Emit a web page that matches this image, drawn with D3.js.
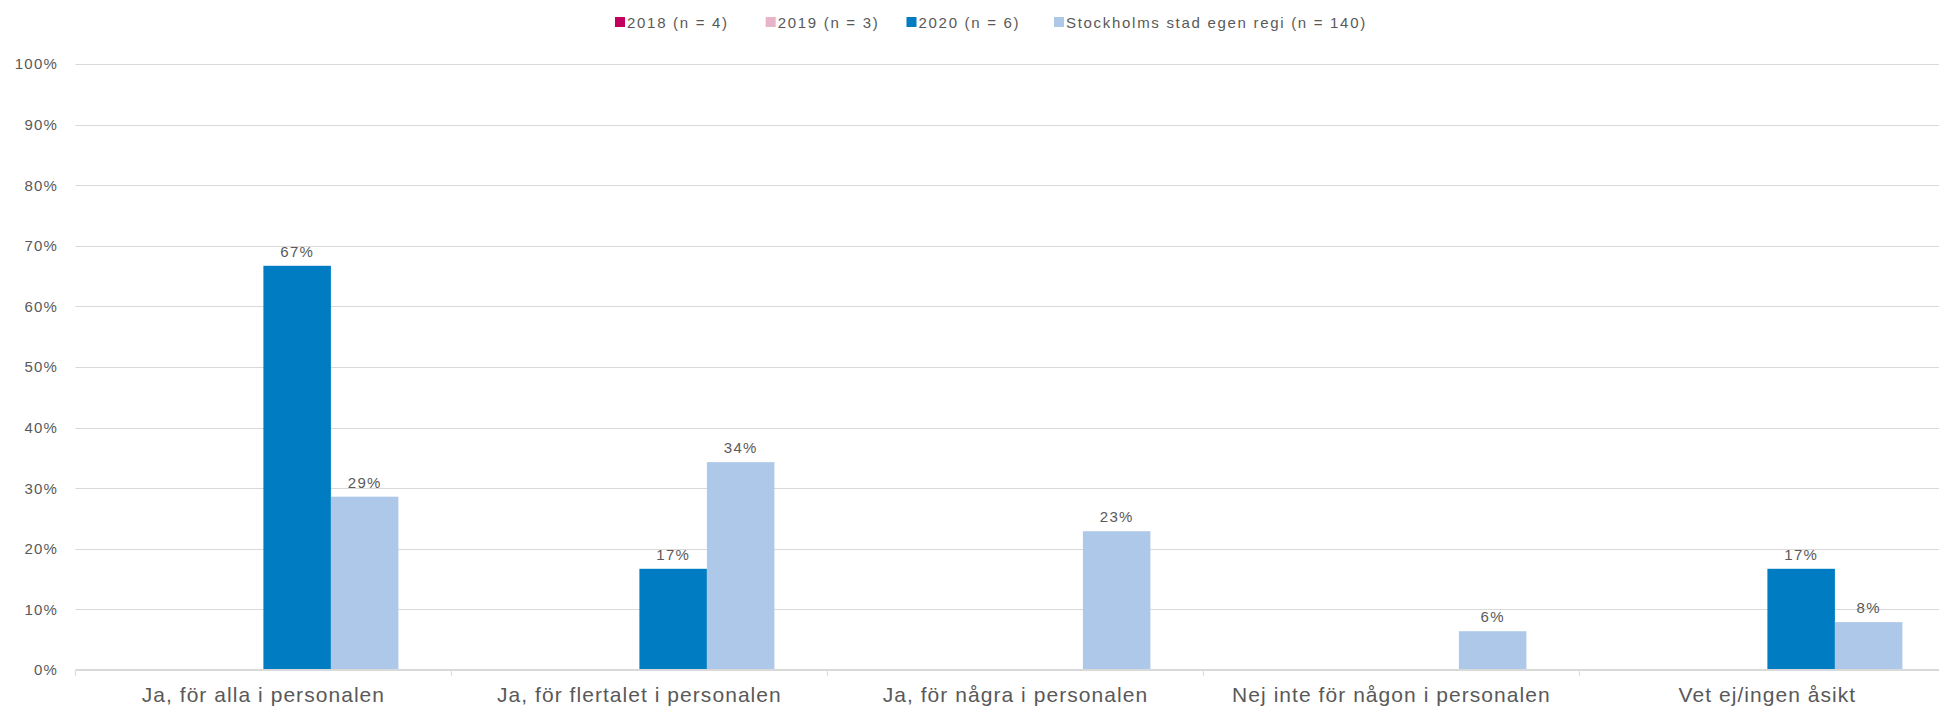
<!DOCTYPE html>
<html>
<head>
<meta charset="utf-8">
<script src="https://cdn.jsdelivr.net/npm/d3@7"></script>
<style>
  html, body { margin: 0; padding: 0; background: #fff; overflow: hidden; }
  svg { display: block; font-family: "Liberation Sans", Arial, sans-serif; }
</style>
</head>
<body>
<svg id="chart"></svg>
<script>
// categories on the x axis
const categories = [
  "Ja, för alla i personalen",
  "Ja, för flertalet i personalen",
  "Ja, för några i personalen",
  "Nej inte för någon i personalen",
  "Vet ej/ingen åsikt"
];
// series (legend)
const seriesNames = ["2018 (n = 4)", "2019 (n = 3)", "2020 (n = 6)", "Stockholms stad egen regi (n = 140)"];
const seriesColors = ["#C4005F", "#E8B4C8", "#007CC2", "#AEC8EA"];
// values in percent, null = no answer that year
const values2018 = [null, null, null, null, null];
const values2019 = [null, null, null, null, null];
const values2020 = [66.7, 16.7, null, null, 16.7];
const valuesStockholm = [28.6, 34.3, 22.9, 6.4, 7.9];
const yTicks = [0, 10, 20, 30, 40, 50, 60, 70, 80, 90, 100];

const allValues = [values2018, values2019, values2020, valuesStockholm];

const width = 1939, height = 707;
const textColor = "#595959";
const gridColor = "#D9D9D9";

const svg = d3.select("#chart").attr("width", width).attr("height", height);

const x0 = d3.scaleBand().domain(categories).range([75.4, 1955.4]);
const x1 = d3.scaleBand().domain(seriesNames).range([0, x0.bandwidth()]).paddingOuter(0.785);
const y = d3.scaleLinear().domain([0, 100]).range([670, 64]);

// gridlines
svg.append("g")
  .selectAll("line")
  .data(yTicks.filter(d => d > 0))
  .join("line")
  .attr("x1", 75.4).attr("x2", width)
  .attr("y1", d => Math.round(y(d)) + 0.5).attr("y2", d => Math.round(y(d)) + 0.5)
  .attr("stroke", gridColor).attr("stroke-width", 1);

// y labels
svg.append("g")
  .selectAll("text")
  .data(yTicks)
  .join("text")
  .attr("x", 58)
  .attr("y", d => y(d))
  .attr("dy", "0.36em")
  .attr("text-anchor", "end")
  .attr("font-size", 15)
  .attr("letter-spacing", 1.2)
  .attr("fill", textColor)
  .text(d => d + "%");

// bars
const groups = svg.append("g")
  .selectAll("g")
  .data(categories)
  .join("g")
  .attr("transform", d => `translate(${x0(d)},0)`);

const barData = (c, i) => seriesNames.map((s, k) => ({ s, k, v: allValues[k][i] })).filter(d => d.v != null);

groups.selectAll("rect")
  .data(barData)
  .join("rect")
  .attr("x", d => x1(d.s))
  .attr("width", x1.bandwidth())
  .attr("y", d => y(d.v))
  .attr("height", d => y(0) - y(d.v))
  .attr("fill", d => seriesColors[d.k]);

groups.selectAll("text")
  .data(barData)
  .join("text")
  .attr("x", d => x1(d.s) + x1.bandwidth() / 2)
  .attr("y", d => y(d.v) - 9)
  .attr("text-anchor", "middle")
  .attr("font-size", 15)
  .attr("letter-spacing", 1.2)
  .attr("fill", textColor)
  .text(d => Math.round(d.v) + "%");

// x axis line + ticks
svg.append("line")
  .attr("x1", 75.4).attr("x2", width)
  .attr("y1", 670).attr("y2", 670)
  .attr("stroke", gridColor).attr("stroke-width", 2);

svg.append("g")
  .selectAll("line")
  .data(categories.concat(["end"]))
  .join("line")
  .attr("x1", (d, i) => 75.4 + i * x0.step())
  .attr("x2", (d, i) => 75.4 + i * x0.step())
  .attr("y1", 670).attr("y2", 676)
  .attr("stroke", gridColor).attr("stroke-width", 1);

svg.append("g")
  .selectAll("text")
  .data(categories)
  .join("text")
  .attr("x", d => x0(d) + x0.bandwidth() / 2)
  .attr("y", 701.5)
  .attr("text-anchor", "middle")
  .attr("font-size", 21)
  .attr("letter-spacing", 1.05)
  .attr("fill", textColor)
  .text(d => d);

// legend
const legendX = [615, 765.7, 906.5, 1054];
const legend = svg.append("g")
  .selectAll("g")
  .data(seriesNames)
  .join("g")
  .attr("transform", (d, i) => `translate(${legendX[i]},17)`);
legend.append("rect")
  .attr("width", 10).attr("height", 10)
  .attr("fill", (d, i) => seriesColors[i]);
legend.append("text")
  .attr("x", 12)
  .attr("y", 10.8)
  .attr("font-size", 15)
  .attr("letter-spacing", 1.7)
  .attr("fill", textColor)
  .text(d => d);
</script>
</body>
</html>
